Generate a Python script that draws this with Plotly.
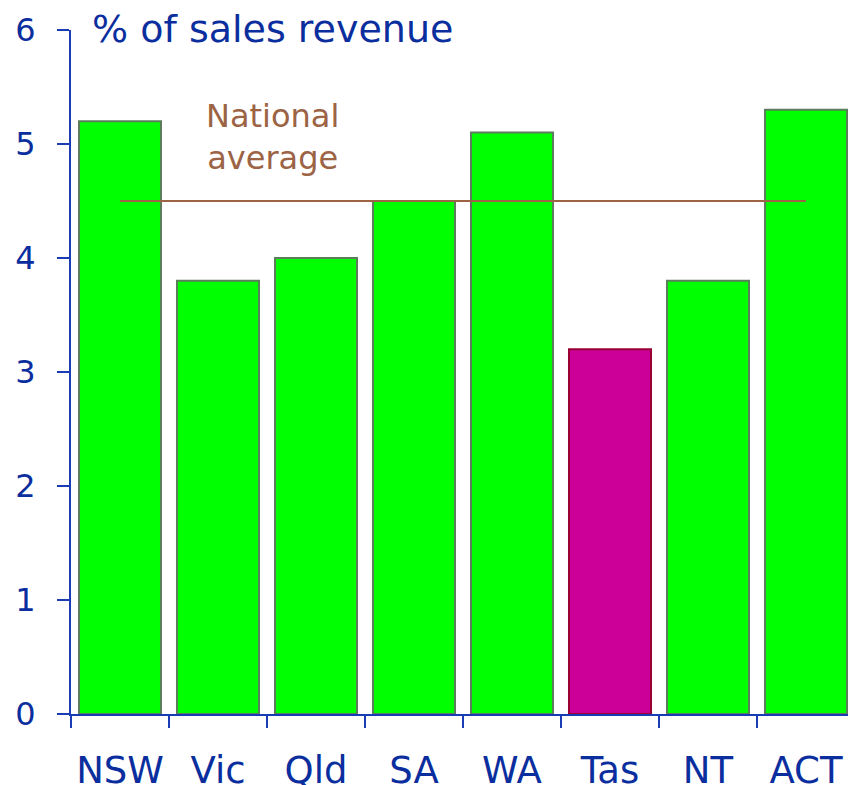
import plotly.graph_objects as go

states = ["NSW", "Vic", "Qld", "SA", "WA", "Tas", "NT", "ACT"]
values = [5.2, 3.8, 4.0, 4.5, 5.1, 3.2, 3.8, 5.3]
national_average = 4.5
highlight = "Tas"

fill = ["#cc0099" if s == highlight else "#00ff00" for s in states]
edge = ["#990033" if s == highlight else "#5b7d5b" for s in states]

text_blue = "#0b2e9e"
axis_blue = "#1a3cb4"
brown = "#9c6344"
font = "DejaVu Sans"

fig = go.Figure()
fig.add_trace(go.Bar(
    x=states, y=values,
    marker=dict(color=fill, line=dict(color=edge, width=2)),
    width=0.837,
    showlegend=False,
))
fig.add_trace(go.Scatter(
    x=[states[0], states[-1]], y=[national_average, national_average],
    mode="lines", line=dict(color=brown, width=2),
    showlegend=False, hoverinfo="skip",
))

fig.add_annotation(
    x=1.56, y=5.06, xref="x", yref="y",
    text="National<br>average", showarrow=False,
    font=dict(family=font, size=32, color=brown),
    align="center",
)
fig.add_annotation(
    x=(90 - 71) / 777, y=1 + (30 - 29) / 684, xref="paper", yref="paper",
    text="% of sales revenue", showarrow=False,
    font=dict(family=font, size=38, color=text_blue),
    xanchor="left", yanchor="middle",
)

fig.update_layout(
    width=848, height=785,
    margin=dict(l=71, r=0, t=30, b=71, autoexpand=False),
    paper_bgcolor="white", plot_bgcolor="white",
    bargap=0.163,
)
fig.update_xaxes(
    type="category", range=[-0.5, -0.5 + 777 / 98], automargin=False,
    showline=True, linecolor=axis_blue, linewidth=2,
    ticks="outside", tickson="boundaries", ticklen=12, tickwidth=2, tickcolor=axis_blue,
    tickfont=dict(family=font, size=37, color=text_blue),
    tickangle=0, ticklabelstandoff=23,
    showgrid=False, zeroline=False,
)
fig.update_yaxes(
    range=[0, 6], dtick=1, automargin=False,
    showline=True, linecolor=axis_blue, linewidth=2,
    ticks="outside", ticklen=12, tickwidth=2, tickcolor=axis_blue,
    tickfont=dict(family=font, size=32, color=text_blue),
    ticklabelstandoff=15,
    showgrid=False, zeroline=False,
)

fig.write_html(
    "out.html",
    config={"displayModeBar": False},
    post_script="document.body.style.margin='0';document.body.style.overflow='hidden';",
)
